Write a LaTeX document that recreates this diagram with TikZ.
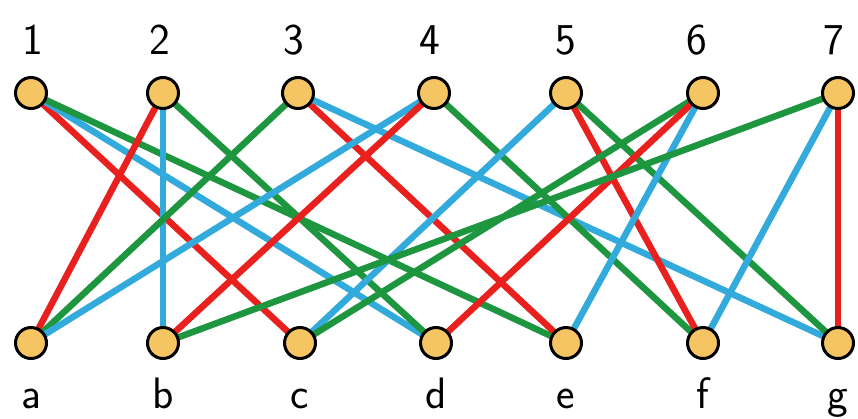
\documentclass[tikz,border=0pt]{standalone}
\usetikzlibrary{backgrounds}
\definecolor{ered}{HTML}{E8201E}
\definecolor{egreen}{HTML}{1E9640}
\definecolor{eblue}{HTML}{33AADC}
\definecolor{vfill}{HTML}{F5C563}
\tikzset{vert/.style={circle,draw=black,line width=3pt,fill=vfill,minimum size=31pt,inner sep=0pt},
  lab/.style={font=\sffamily\fontsize{44}{48}\selectfont,anchor=base,inner sep=0pt},
  edge/.style={line width=6.5pt}}
\begin{document}
\begin{tikzpicture}[x=1pt,y=-1pt]
\useasboundingbox (0,0) rectangle (858,418);
% top row 1..7, bottom row a..g
\foreach \i/\x/\lx in {1/31/33,2/163/160,3/298/294,4/434/430,5/566/566,6/703/697,7/838/834}{
  \node[vert] (t\i) at (\x,93) {};
  \node[lab] (l\i) at (\lx,54) {\i};}
\foreach \n/\x in {a/31,b/163,c/300,d/436,e/566,f/703,g/838}{
  \node[vert] (\n) at (\x,343) {};
  \node[lab] (l\n) at (\x,408) {\n};}
\begin{pgfonlayer}{background}
\foreach \s/\t/\c in {1/c/ered,1/d/eblue,1/e/egreen,
  2/a/ered,2/b/eblue,2/d/egreen,
  3/a/egreen,3/e/ered,3/g/eblue,
  4/a/eblue,4/b/ered,4/f/egreen,
  5/c/eblue,5/f/ered,5/g/egreen,
  6/c/egreen,6/d/ered,6/e/eblue,
  7/b/egreen,7/f/eblue,7/g/ered}{
  \draw[edge,\c] (t\s.center)--(\t.center);}
\end{pgfonlayer}
\end{tikzpicture}
\end{document}
